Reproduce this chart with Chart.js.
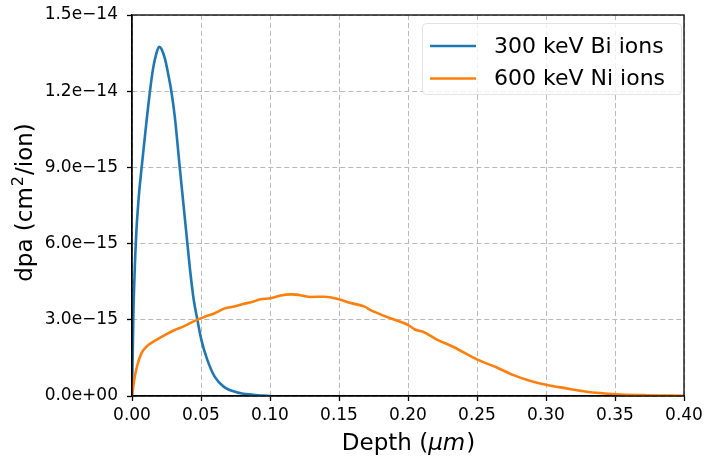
<!DOCTYPE html>
<html><head><meta charset="utf-8">
<script src="https://cdn.jsdelivr.net/npm/chart.js@4"></script>
<style>html,body{margin:0;padding:0;background:#fff}canvas{display:block}</style>
</head><body>
<canvas id="c" width="705" height="459"></canvas>
<script>
const seriesNames = ['300 keV Bi ions', '600 keV Ni ions'];
const seriesColors = ['#1f77b4', '#ff7f0e'];

const biDepth = [0, 0.0005, 0.001, 0.002, 0.0032, 0.0050, 0.0068, 0.0097, 0.0128, 0.0153, 0.0175, 0.0196, 0.0215, 0.0240, 0.0265, 0.0285, 0.0310, 0.0346, 0.0370, 0.0394, 0.0420, 0.0447, 0.0474, 0.0503, 0.0546, 0.0599, 0.0664, 0.0757, 0.0877, 0.1000];
const biDpa = [0, 1.6e-15, 3.2e-15, 5.0e-15, 6.5e-15, 7.9e-15, 8.9e-15, 10.4e-15, 11.9e-15, 12.9e-15, 13.45e-15, 13.75e-15, 13.65e-15, 13.25e-15, 12.6e-15, 12.0e-15, 11.0e-15, 9.0e-15, 7.7e-15, 6.4e-15, 5.0e-15, 3.8e-15, 3.0e-15, 2.2e-15, 1.42e-15, 0.76e-15, 0.37e-15, 0.15e-15, 0.05e-15, 0.0];

const niDepth = [0, 0.001, 0.002, 0.0039, 0.0068, 0.0104, 0.0164, 0.0237, 0.031, 0.0382, 0.0454, 0.0527, 0.0599, 0.0672, 0.0740, 0.0804, 0.0870, 0.0925, 0.1005, 0.107, 0.1155, 0.124, 0.1288, 0.1396, 0.150, 0.1578, 0.1686, 0.1722, 0.1843, 0.200, 0.2049, 0.2109, 0.2206, 0.2326, 0.2507, 0.264, 0.276, 0.2882, 0.3007, 0.3148, 0.3293, 0.351, 0.3728, 0.40];
const niDpa = [0, 0.4e-15, 0.76e-15, 1.22e-15, 1.68e-15, 1.94e-15, 2.17e-15, 2.40e-15, 2.60e-15, 2.76e-15, 2.96e-15, 3.12e-15, 3.26e-15, 3.45e-15, 3.52e-15, 3.62e-15, 3.70e-15, 3.80e-15, 3.85e-15, 3.95e-15, 4.0e-15, 3.95e-15, 3.90e-15, 3.91e-15, 3.81e-15, 3.67e-15, 3.52e-15, 3.40e-15, 3.12e-15, 2.80e-15, 2.62e-15, 2.53e-15, 2.23e-15, 1.94e-15, 1.42e-15, 1.13e-15, 0.83e-15, 0.60e-15, 0.43e-15, 0.30e-15, 0.17e-15, 0.07e-15, 0.03e-15, 0.01e-15];

const xTickValues = [0, 0.05, 0.10, 0.15, 0.20, 0.25, 0.30, 0.35, 0.40];
const xTickLabels = ['0.00', '0.05', '0.10', '0.15', '0.20', '0.25', '0.30', '0.35', '0.40'];
const yTickValues = [0, 3e-15, 6e-15, 9e-15, 1.2e-14, 1.5e-14];
const yTickLabels = ['0.0e+00', '3.0e\u221215', '6.0e\u221215', '9.0e\u221215', '1.2e\u221214', '1.5e\u221214'];

const xTitleParts = ['Depth (', '\u03bcm', ')'];
const yTitleParts = ['dpa (cm', '2', '/ion)'];

const FONT = "'DejaVu Sans', sans-serif";

const toPoints = (xs, ys) => xs.map((x, i) => ({x: x, y: ys[i]}));

const framePlugin = {
  id: 'frame',
  afterDatasetsDraw(chart) {
    const {ctx, chartArea: a} = chart;
    ctx.save();
    ctx.strokeStyle = '#000';
    ctx.lineWidth = 1.3;
    ctx.setLineDash([]);
    ctx.strokeRect(a.left, a.top, a.right - a.left, a.bottom - a.top);
    ctx.restore();
  }
};

const titlesPlugin = {
  id: 'titles',
  afterDraw(chart) {
    const {ctx, chartArea: a} = chart;
    ctx.save();
    ctx.fillStyle = '#000';
    ctx.textBaseline = 'alphabetic';
    const fN = '23px ' + FONT, fI = 'oblique 23px ' + FONT;
    ctx.font = fN; const w0 = ctx.measureText(xTitleParts[0]).width;
    ctx.font = fI; const w1 = ctx.measureText(xTitleParts[1]).width;
    ctx.font = fN; const w2 = ctx.measureText(xTitleParts[2]).width;
    let x = (a.left + a.right) / 2 - (w0 + w1 + w2) / 2;
    const yb = a.bottom + 54;
    ctx.textAlign = 'left';
    ctx.font = fN; ctx.fillText(xTitleParts[0], x, yb); x += w0;
    ctx.font = fI; ctx.fillText(xTitleParts[1], x, yb); x += w1 + 1;
    ctx.font = fN; ctx.fillText(xTitleParts[2], x, yb);
    const fS = '16px ' + FONT;
    ctx.font = fN; const v0 = ctx.measureText(yTitleParts[0]).width;
    ctx.font = fS; const v1 = ctx.measureText(yTitleParts[1]).width;
    ctx.font = fN; const v2 = ctx.measureText(yTitleParts[2]).width;
    ctx.translate(32, (a.top + a.bottom) / 2 - 3);
    ctx.rotate(-Math.PI / 2);
    let t = -(v0 + v1 + v2 + 2) / 2;
    ctx.font = fN; ctx.fillText(yTitleParts[0], t, 0); t += v0 + 1;
    ctx.font = fS; ctx.fillText(yTitleParts[1], t, -9); t += v1 + 1;
    ctx.font = fN; ctx.fillText(yTitleParts[2], t, 0);
    ctx.restore();
  }
};

const legendPlugin = {
  id: 'customLegend',
  afterDraw(chart) {
    const {ctx, chartArea: a} = chart;
    ctx.save();
    const bx = a.right - 262, by = a.top + 8, bw = 259, bh = 71;
    ctx.fillStyle = 'rgba(255,255,255,0.8)';
    ctx.strokeStyle = 'rgba(220,220,220,0.8)';
    ctx.lineWidth = 1;
    ctx.beginPath();
    if (ctx.roundRect) ctx.roundRect(bx + 0.5, by + 0.5, bw, bh, 4); else ctx.rect(bx + 0.5, by + 0.5, bw, bh);
    ctx.fill(); ctx.stroke();
    ctx.font = '22px ' + FONT;
    ctx.textBaseline = 'middle';
    ctx.textAlign = 'left';
    seriesNames.forEach((name, i) => {
      const yy = by + 23 + i * 32.5;
      ctx.strokeStyle = seriesColors[i];
      ctx.lineWidth = 2.5;
      ctx.beginPath();
      ctx.moveTo(bx + 8, yy); ctx.lineTo(bx + 54, yy);
      ctx.stroke();
      ctx.fillStyle = '#000';
      ctx.fillText(name, bx + 72, yy + 1);
    });
    ctx.restore();
  }
};

const gridCommon = {
  color: '#b8b8b8',
  lineWidth: 1,
  drawTicks: true,
  tickLength: 5,
  tickColor: '#000',
  tickWidth: 1.3,
  tickBorderDash: []
};

new Chart(document.getElementById('c'), {
  type: 'line',
  data: {
    datasets: [
      {label: seriesNames[0], data: toPoints(biDepth, biDpa), borderColor: seriesColors[0], borderWidth: 2.6, pointRadius: 0, cubicInterpolationMode: 'monotone', fill: false, order: 1},
      {label: seriesNames[1], data: toPoints(niDepth, niDpa), borderColor: seriesColors[1], borderWidth: 2.6, pointRadius: 0, cubicInterpolationMode: 'monotone', fill: false, order: 0}
    ]
  },
  options: {
    responsive: false,
    animation: false,
    devicePixelRatio: 1,
    layout: {padding: {left: 0, top: 15, right: 21, bottom: 0}},
    plugins: {legend: {display: false}, tooltip: {enabled: false}},
    scales: {
      x: {
        type: 'linear', min: 0, max: 0.4,
        afterBuildTicks: s => { s.ticks = xTickValues.map(v => ({value: v})); },
        afterFit: s => { s.height = 63; s.paddingLeft = 0; s.paddingRight = 0; },
        grid: gridCommon,
        border: {display: true, color: '#000', width: 1.3, dash: [5, 3]},
        ticks: {callback: (v, i) => xTickLabels[i], color: '#000', font: {family: FONT, size: 17}, padding: 4, maxRotation: 0, autoSkip: false}
      },
      y: {
        type: 'linear', min: 0, max: 1.5e-14,
        afterBuildTicks: s => { s.ticks = yTickValues.map(v => ({value: v})); },
        afterFit: s => { s.width = 132; s.paddingTop = 0; s.paddingBottom = 0; },
        grid: gridCommon,
        border: {display: true, color: '#000', width: 1.3, dash: [5, 3]},
        ticks: {callback: (v, i) => yTickLabels[i], color: '#000', font: {family: FONT, size: 17}, padding: 9, autoSkip: false}
      }
    }
  },
  plugins: [framePlugin, titlesPlugin, legendPlugin]
});
</script>
</body></html>
